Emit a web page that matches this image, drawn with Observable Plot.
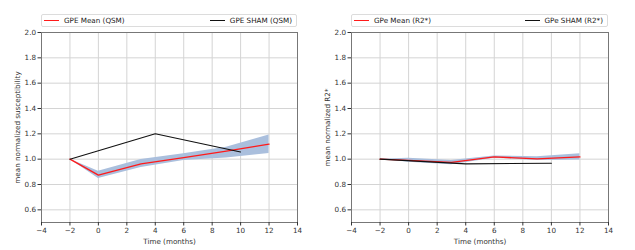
<!DOCTYPE html>
<html>
<head>
<meta charset="utf-8">
<script src="https://cdn.jsdelivr.net/npm/d3@7"></script>
<script src="https://cdn.jsdelivr.net/npm/@observablehq/plot@0.6"></script>
<style>
  html, body { margin: 0; padding: 0; background: #fff; }
  #wrap { position: relative; width: 635px; height: 250px; overflow: hidden; font-family: "DejaVu Sans", sans-serif; }
  .panel { position: absolute; top: 0; }
  .legend { position: absolute; top: 14px; height: 13px; border: 1px solid #dcdcdc; border-radius: 2px;
            display: flex; justify-content: space-between; align-items: center; font-size: 7.2px; color: #222;
            box-sizing: border-box; padding: 0 4px 0 2px; background: #fff; }
  .entry { display: flex; align-items: center; }
  .swatch { display: inline-block; width: 15px; height: 0; border-top: 1.3px solid; margin-right: 5px; }
</style>
</head>
<body>
<div id="wrap"></div>
<script>
// Data
const meanMonths = [-2, 0, 3, 6, 9, 12];
const shamMonths = [-2, 4, 10];

const qsmMean = [1.0, 0.874, 0.962, 1.012, 1.064, 1.118];
const qsmLow  = [1.0, 0.848, 0.935, 0.99, 1.01, 1.045];
const qsmHigh = [1.0, 0.905, 0.998, 1.042, 1.095, 1.19];
const qsmSham = [1.0, 1.2, 1.057];

const r2Mean = [1.0, 0.99, 0.975, 1.018, 1.002, 1.018];
const r2Low  = [1.0, 0.975, 0.955, 1.008, 0.99, 0.993];
const r2High = [1.0, 1.008, 0.99, 1.025, 1.02, 1.043];
const r2Sham = [1.0, 0.963, 0.968];

const xTicks = [-4, -2, 0, 2, 4, 6, 8, 10, 12, 14];
const yTicks = [0.6, 0.8, 1.0, 1.2, 1.4, 1.6, 1.8, 2.0];

const panels = [
  { left: 0, width: 310, marginLeft: 41, marginRight: 13, ylabel: "mean normalized susceptibility",
    mean: qsmMean, low: qsmLow, high: qsmHigh, sham: qsmSham,
    meanLabel: "GPE Mean (QSM)", shamLabel: "GPE SHAM (QSM)" },
  { left: 310, width: 325, marginLeft: 41, marginRight: 27, ylabel: "mean normalized R2*",
    mean: r2Mean, low: r2Low, high: r2High, sham: r2Sham,
    meanLabel: "GPe Mean (R2*)", shamLabel: "GPe SHAM (R2*)" }
];

const wrap = document.getElementById("wrap");

for (const p of panels) {
  const meanData = meanMonths.map((m, i) => ({ m, v: p.mean[i], lo: p.low[i], hi: p.high[i] }));
  const shamData = shamMonths.map((m, i) => ({ m, v: p.sham[i] }));
  const chart = Plot.plot({
    width: p.width,
    height: 250,
    marginLeft: p.marginLeft,
    marginRight: p.marginRight,
    marginTop: 32,
    marginBottom: 28,
    style: { fontFamily: "DejaVu Sans, sans-serif", fontSize: "7.2px", color: "#333", background: "#fff" },
    x: { domain: [-4, 14] },
    y: { domain: [0.5, 2.0] },
    marks: [
      Plot.gridX(xTicks, { stroke: "#d4d4d4", strokeOpacity: 1, strokeWidth: 1 }),
      Plot.gridY(yTicks, { stroke: "#d4d4d4", strokeOpacity: 1, strokeWidth: 1 }),
      Plot.areaY(meanData, { x: "m", y1: "lo", y2: "hi", fill: "#aabfdd", fillOpacity: 1 }),
      Plot.line(meanData, { x: "m", y: "v", stroke: "#ff1a1a", strokeWidth: 1.3 }),
      Plot.line(shamData, { x: "m", y: "v", stroke: "#111", strokeWidth: 1.1 }),
      Plot.frame({ stroke: "#777", strokeWidth: 1 }),
      Plot.axisX({ ticks: xTicks, tickSize: 3.5, tickPadding: 2, label: "Time (months)",
                   labelAnchor: "center", labelArrow: "none", labelOffset: 21 }),
      Plot.axisY({ ticks: yTicks, tickSize: 3.5, tickPadding: 2, tickFormat: d3.format(".1f"),
                   label: p.ylabel, labelAnchor: "center", labelArrow: "none", labelOffset: 27 })
    ]
  });
  chart.classList.add("panel");
  chart.style.left = p.left + "px";
  wrap.appendChild(chart);

  const plotLeft = p.left + p.marginLeft;
  const plotWidth = p.width - p.marginLeft - p.marginRight;
  const leg = document.createElement("div");
  leg.className = "legend";
  leg.style.left = plotLeft + "px";
  leg.style.width = plotWidth + "px";
  leg.innerHTML =
    `<span class="entry"><span class="swatch" style="border-color:#ff1a1a"></span>${p.meanLabel}</span>` +
    `<span class="entry"><span class="swatch" style="border-color:#111"></span>${p.shamLabel}</span>`;
  wrap.appendChild(leg);
}
</script>
</body>
</html>
